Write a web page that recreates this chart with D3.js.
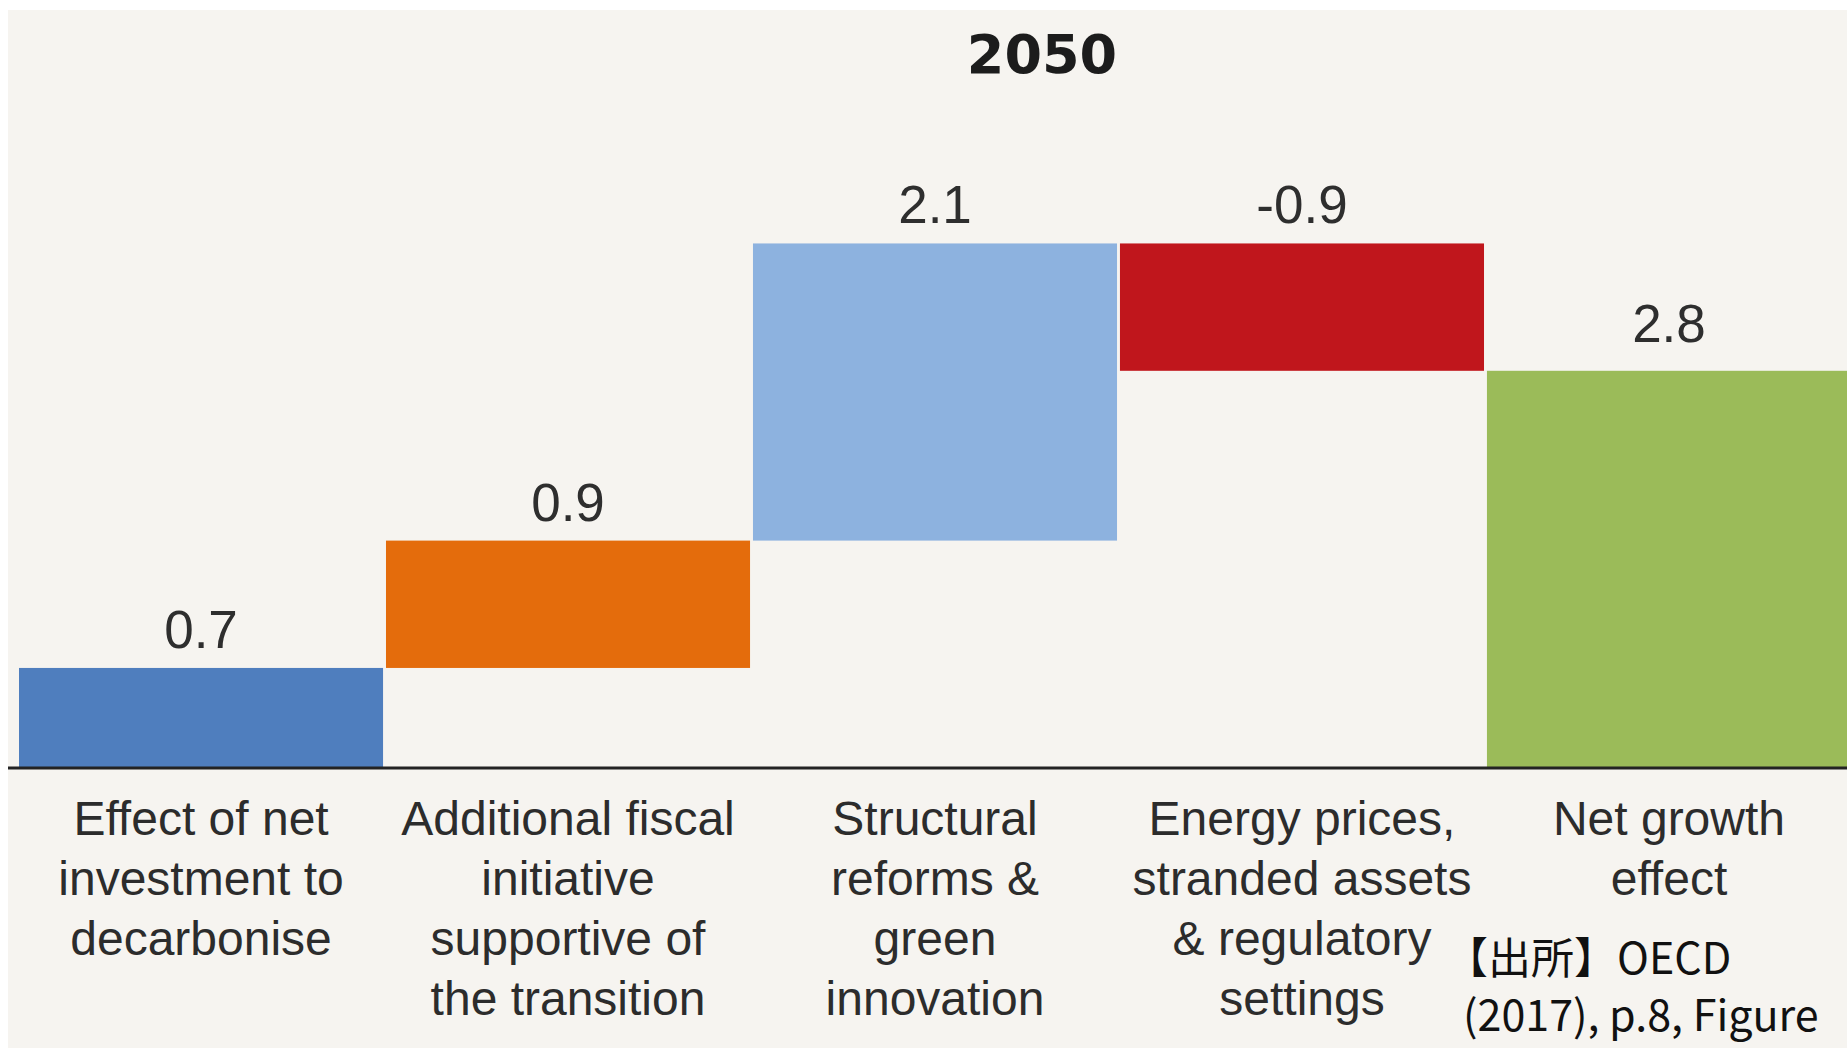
<!DOCTYPE html>
<html>
<head>
<meta charset="utf-8">
<script src="https://cdn.jsdelivr.net/npm/d3@7/dist/d3.min.js"></script>
<style>
  html, body { margin: 0; padding: 0; background: #ffffff; }
  svg { display: block; }
</style>
</head>
<body>
<svg id="chart" width="1847" height="1048"></svg>
<script>
// Waterfall components of the long-run growth effect, 2050 (%)
const categories = [
  "Effect of net investment to decarbonise",
  "Additional fiscal initiative supportive of the transition",
  "Structural reforms & green innovation",
  "Energy prices, stranded assets & regulatory settings",
  "Net growth effect"
];
const labelLines = [
  ["Effect of net", "investment to", "decarbonise"],
  ["Additional fiscal", "initiative", "supportive of", "the transition"],
  ["Structural", "reforms &", "green", "innovation"],
  ["Energy prices,", "stranded assets", "& regulatory", "settings"],
  ["Net growth", "effect"]
];
const stepValues = [0.7, 0.9, 2.1, -0.9];
const totalValue = 2.8;
const valueLabels = ["0.7", "0.9", "2.1", "-0.9", "2.8"];
const barColors = ["#4f7ebe", "#e46c0c", "#8db2df", "#c0161c", "#9bbb59"];
const title = "2050";
const sourceLines = ["【出所】OECD", "(2017), p.8, Figure"];

// Build the floating segments: each step starts where the previous ended
let running = 0;
const bars = stepValues.map((v, i) => {
  const start = running;
  running += v;
  return { cat: categories[i], from: start, to: running, label: valueLabels[i], color: barColors[i], total: false };
});
bars.push({ cat: categories[4], from: 0, to: totalValue, label: valueLabels[4], color: barColors[4], total: true });

const svg = d3.select("#chart");
const W = 1847, H = 1048;

// panel background
svg.append("rect")
  .attr("x", 8).attr("y", 10)
  .attr("width", W - 8).attr("height", H - 10)
  .attr("fill", "#f6f4f0");

const x = d3.scaleBand()
  .domain(categories)
  .range([19, 1851])
  .paddingInner(0.008)
  .paddingOuter(0);

const y = d3.scaleLinear()
  .domain([0, 4])
  .range([767, 201]);

// bars
svg.append("g")
  .selectAll("rect")
  .data(bars)
  .join("rect")
  .attr("x", d => x(d.cat))
  .attr("width", x.bandwidth())
  .attr("y", d => y(Math.max(d.from, d.to)))
  .attr("height", d => Math.abs(y(d.from) - y(d.to)))
  .attr("fill", d => d.color);

// value labels above each segment
svg.append("g")
  .selectAll("text")
  .data(bars)
  .join("text")
  .attr("x", d => x(d.cat) + x.bandwidth() / 2)
  .attr("y", d => y(Math.max(d.from, d.to)) - (d.total ? 29 : 20))
  .attr("text-anchor", "middle")
  .attr("font-family", "'Liberation Sans', Arial, sans-serif")
  .attr("font-size", 53)
  .attr("fill", "#2e2e2e")
  .text(d => d.label);

// baseline axis
const xAxis = d3.axisBottom(x).tickSize(0).tickFormat("");
const axisG = svg.append("g")
  .attr("transform", `translate(0,${y(0)})`)
  .call(xAxis);
axisG.select(".domain").remove();
axisG.append("line")
  .attr("x1", 8).attr("x2", W)
  .attr("y1", 1).attr("y2", 1)
  .attr("stroke", "#232323")
  .attr("stroke-width", 3);

// multi-line category labels, one text element per line
const catG = svg.append("g")
  .attr("font-family", "'Liberation Sans', Arial, sans-serif")
  .attr("font-size", 48)
  .attr("fill", "#2c2c2c")
  .attr("text-anchor", "middle");
categories.forEach((c, i) => {
  labelLines[i].forEach((line, j) => {
    catG.append("text")
      .attr("x", x(c) + x.bandwidth() / 2)
      .attr("y", 835 + j * 60)
      .text(line);
  });
});

// title
svg.append("text")
  .attr("x", 1042).attr("y", 73)
  .attr("text-anchor", "middle")
  .attr("font-family", "'DejaVu Sans', sans-serif")
  .attr("font-weight", "bold")
  .attr("font-size", 54)
  .attr("fill", "#1c1c1c")
  .text(title);

// source note
const src = svg.append("g")
  .attr("font-family", "'Noto Sans CJK JP', 'Open Sans', sans-serif")
  .attr("font-size", 43)
  .attr("fill", "#111111");
src.append("text").attr("x", 1445).attr("y", 974).text(sourceLines[0]);
src.append("text").attr("x", 1463).attr("y", 1031).text(sourceLines[1]);
</script>
</body>
</html>
